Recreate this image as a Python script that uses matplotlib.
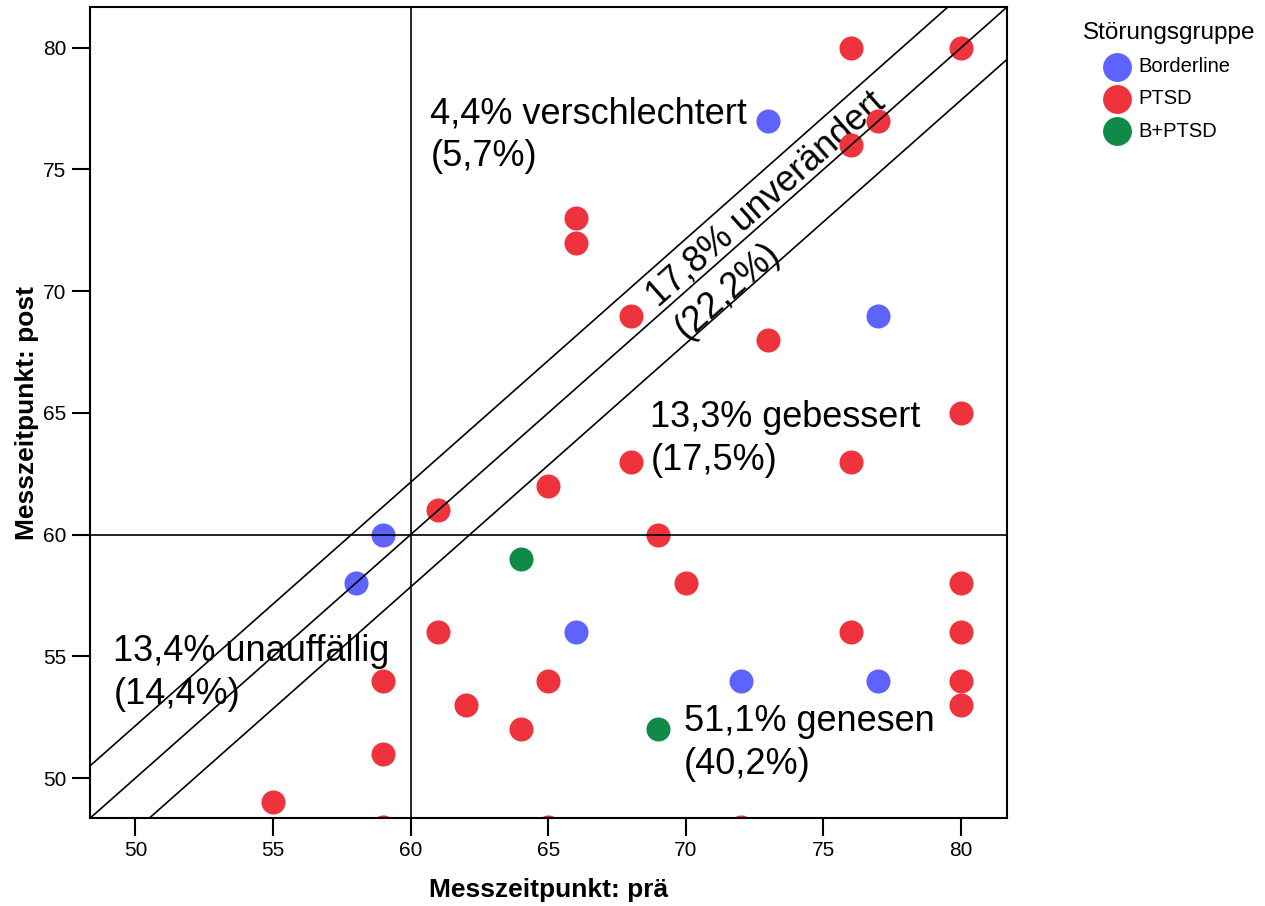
"""Prä/Post-Streudiagramm nach Störungsgruppe mit Bändern für unveränderte Werte."""
import matplotlib
matplotlib.use("Agg")
import matplotlib.pyplot as plt

plt.rcParams["font.family"] = ["Liberation Sans", "DejaVu Sans"]

# --- data ---
groups = ["Borderline", "PTSD", "B+PTSD"]
colors = ["#5E62FF", "#EF333D", "#108B47"]

border_pre = [73, 77, 59, 58, 66, 72, 77]
border_post = [77, 69, 60, 58, 56, 54, 54]
ptsd_pre = [76, 80, 77, 76, 66, 66, 68, 73, 80, 68, 76, 65, 61, 69, 70,
            80, 61, 76, 80, 59, 65, 80, 80, 62, 64, 59, 55, 59, 65, 72]
ptsd_post = [80, 80, 77, 76, 73, 72, 69, 68, 65, 63, 63, 62, 61, 60, 58,
             58, 56, 56, 56, 54, 54, 54, 53, 53, 52, 51, 49, 48, 48, 48]
bptsd_pre = [64, 69]
bptsd_post = [59, 52]

cutoff = 60        # clinical cut-off on both axes
band = 2.15        # half-width of the "unverändert" band around y = x

# text, x, y of the last line's baseline start, rotation (data space)
labels = [
    ("4,4% verschlechtert\n(5,7%)", 60.72, 75.46, 0),
    ("13,3% gebessert\n(17,5%)", 68.71, 62.98, 0),
    ("51,1% genesen\n(40,2%)", 69.92, 50.51, 0),
    ("13,4% unauffällig\n(14,4%)", 49.2, 53.36, 0),
    ("17,8% unverändert\n(22,2%)", 69.83, 68.23, 45),
]

xticks = [50, 55, 60, 65, 70, 75, 80]
lims = (48.35, 81.66)

fig = plt.figure(figsize=(12.65, 9.06), dpi=100)
ax = fig.add_axes([0.0711, 0.0968, 0.7247, 0.8951])

series = [(border_pre, border_post), (ptsd_pre, ptsd_post), (bptsd_pre, bptsd_post)]
for (xs, ys), g, c in zip(series, groups, colors):
    ax.scatter(xs, ys, s=300, color=c, linewidths=0, label=g, zorder=2)

# reference lines on top of the points
for off in (-band, 0, band):
    ax.axline((cutoff, cutoff + off), slope=1, color="black", lw=1.2, zorder=3)
ax.axvline(cutoff, color="black", lw=1.2, zorder=3)
ax.axhline(cutoff, color="black", lw=1.2, zorder=3)

for txt, x, y, rot in labels:
    ax.text(x, y, txt, fontsize=26, ha="left", va="baseline", rotation=rot,
            rotation_mode="anchor", transform_rotates_text=True,
            linespacing=1.29, zorder=1)

ax.set_xlim(lims); ax.set_ylim(lims)
ax.set_xticks(xticks); ax.set_yticks(xticks)
ax.tick_params(axis="both", direction="out", length=13, width=1.5,
               labelsize=15, colors="black")
ax.tick_params(axis="x", pad=3)
ax.tick_params(axis="y", pad=4)
for sp in ax.spines.values():
    sp.set_linewidth(1.5)

ax.set_xlabel("Messzeitpunkt: prä", fontsize=19, fontweight="bold", labelpad=13)
ax.set_ylabel("Messzeitpunkt: post", fontsize=19, fontweight="bold", labelpad=3)

fig.legend(*ax.get_legend_handles_labels(), loc="upper center",
           bbox_to_anchor=(0.924, 0.987), frameon=False, title="Störungsgruppe",
           title_fontsize=17.5, fontsize=14.5, markerscale=1.2, borderpad=0,
           handlelength=1.0, handletextpad=0.55, labelspacing=0.66)

fig.savefig("out.png", dpi=100)
